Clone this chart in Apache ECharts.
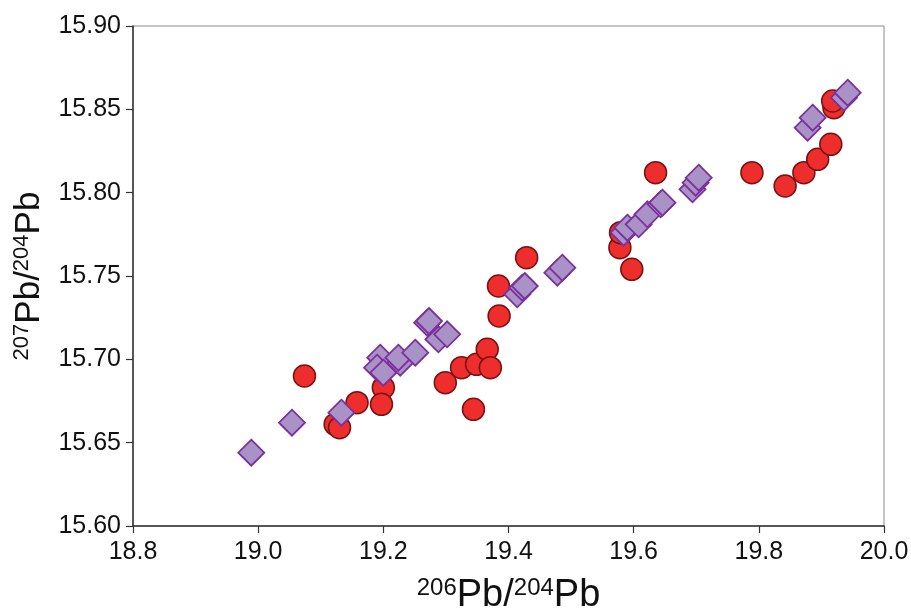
<!DOCTYPE html>
<html><head><meta charset="utf-8">
<script src="https://cdn.jsdelivr.net/npm/echarts@6/dist/echarts.min.js"></script>
<style>html,body{margin:0;padding:0;background:#fff}#c{width:911px;height:610px}</style>
</head><body><div id="c"></div>
<script>
// Red circles: [206Pb/204Pb, 207Pb/204Pb]
const circleX = [19.074, 19.123, 19.130, 19.158, 19.200, 19.197, 19.299, 19.325, 19.349, 19.366, 19.371, 19.344, 19.385, 19.384, 19.429, 19.578, 19.579, 19.597, 19.635, 19.789, 19.842, 19.872, 19.894, 19.915, 19.920, 19.918];
const circleY = [15.690, 15.661, 15.659, 15.674, 15.683, 15.673, 15.686, 15.695, 15.697, 15.706, 15.695, 15.670, 15.726, 15.744, 15.761, 15.767, 15.776, 15.754, 15.812, 15.812, 15.804, 15.812, 15.820, 15.829, 15.851, 15.855];
// Purple diamonds
const diamondX = [18.989, 19.054, 19.133, 19.195, 19.190, 19.200, 19.227, 19.224, 19.251, 19.270, 19.273, 19.288, 19.302, 19.414, 19.422, 19.426, 19.478, 19.486, 19.584, 19.590, 19.608, 19.622, 19.643, 19.646, 19.694, 19.699, 19.704, 19.878, 19.886, 19.936, 19.942];
const diamondY = [15.644, 15.662, 15.668, 15.701, 15.695, 15.692, 15.698, 15.701, 15.704, 15.722, 15.723, 15.712, 15.715, 15.739, 15.743, 15.744, 15.752, 15.755, 15.776, 15.779, 15.781, 15.787, 15.793, 15.794, 15.802, 15.806, 15.809, 15.839, 15.845, 15.857, 15.860];

const xMin = 18.8, xMax = 20.0, xStep = 0.2;
const yMin = 15.60, yMax = 15.90, yStep = 0.05;

const circles = circleX.map((x, i) => [x, circleY[i]]);
const diamonds = diamondX.map((x, i) => [x, diamondY[i]]);

const font = 'Arial, "Liberation Sans", sans-serif';
const chart = echarts.init(document.getElementById('c'));
chart.setOption({
  animation: false,
  grid: { left: 133, right: 27, top: 26, bottom: 84, show: true, borderColor: '#8a8a8a', borderWidth: 1, outerBoundsMode: 'none', containLabel: false },
  xAxis: {
    type: 'value', min: xMin, max: xMax, interval: xStep,
    axisLine: { show: true, onZero: false, lineStyle: { color: '#333', width: 1.5 } },
    axisTick: { show: true, inside: false, length: 7, lineStyle: { color: '#333', width: 1.2 } },
    splitLine: { show: false },
    axisLabel: { color: '#111', fontSize: 25, fontFamily: font, margin: 14, formatter: v => v.toFixed(1) },
    name: '{sup|206}{m|Pb/}{sup|204}{m|Pb}',
    nameLocation: 'middle', nameGap: 50,
    nameTextStyle: {
      fontFamily: font, color: '#111',
      rich: {
        m: { fontSize: 38, fontFamily: font, color: '#111' },
        sup: { fontSize: 24, fontFamily: font, color: '#111', padding: [0, 0, 16, 0] }
      }
    }
  },
  yAxis: {
    type: 'value', min: yMin, max: yMax, interval: yStep,
    axisLine: { show: true, onZero: false, lineStyle: { color: '#333', width: 1.5 } },
    axisTick: { show: true, inside: false, length: 7, lineStyle: { color: '#333', width: 1.2 } },
    splitLine: { show: false },
    axisLabel: { color: '#111', fontSize: 25, fontFamily: font, margin: 12, formatter: v => v.toFixed(2) },
    name: '{sup|207}{m|Pb/}{sup|204}{m|Pb}',
    nameLocation: 'middle', nameRotate: 90, nameGap: 86,
    nameTextStyle: {
      fontFamily: font, color: '#111',
      rich: {
        m: { fontSize: 35, fontFamily: font, color: '#111' },
        sup: { fontSize: 22, fontFamily: font, color: '#111', padding: [0, 0, 14, 0] }
      }
    }
  },
  series: [
    {
      type: 'scatter', data: circles, symbol: 'circle', symbolSize: 22,
      itemStyle: { color: '#EE2E2C', borderColor: '#7A1212', borderWidth: 1.5, opacity: 1 },
      z: 2
    },
    {
      type: 'scatter', data: diamonds, symbol: 'diamond', symbolSize: [26, 26],
      itemStyle: { color: '#A992C6', borderColor: '#7D2F9E', borderWidth: 1.8, opacity: 1 },
      z: 3
    }
  ]
});
</script>
</body></html>
